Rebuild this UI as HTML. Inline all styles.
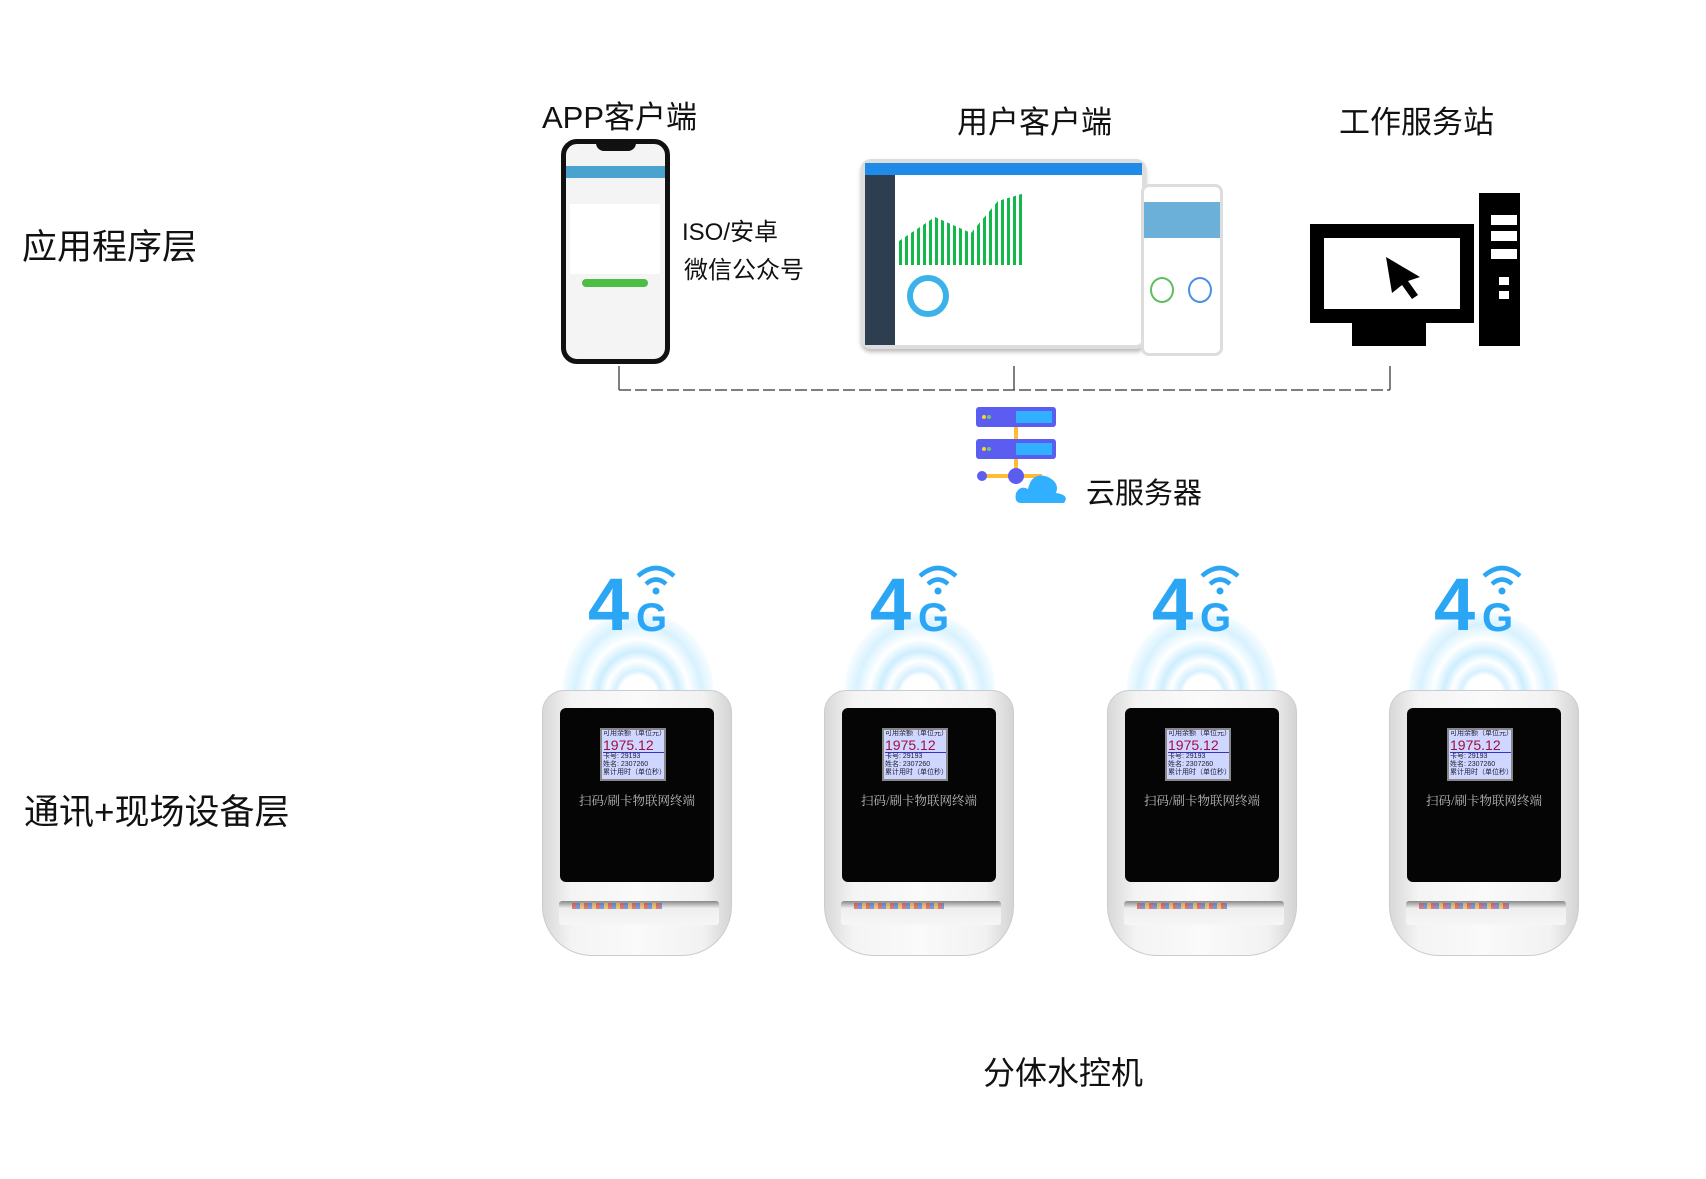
<!DOCTYPE html>
<html><head><meta charset="utf-8"><style>
*{margin:0;padding:0;box-sizing:border-box}
body{width:1706px;height:1179px;background:#fff;position:relative;overflow:hidden;font-family:"Liberation Sans","Noto Sans CJK SC",sans-serif;color:#111}
.a{position:absolute;white-space:nowrap}
.lbl{font-size:35px}
.dev{position:absolute;top:690px;width:190px;height:266px}
.dev .body{position:absolute;left:0;top:0;width:190px;height:266px;border-radius:22px 22px 50px 50px;background:linear-gradient(90deg,#d8d8d8,#f4f4f4 15%,#fafafa 50%,#f2f2f2 85%,#d4d4d4);border:1px solid #ccc}
.dev .scr{position:absolute;left:18px;top:18px;width:154px;height:174px;background:#050505;border-radius:6px}
.dev .lcd{position:absolute;left:40px;top:20px;width:66px;height:53px;background:#cfd6ff;border:2px solid #888;font-size:7px;line-height:8px;color:#223;padding-left:1px;overflow:hidden}
.dev .lcd b{color:#a01040;font-size:14px;line-height:14px;font-weight:normal;display:block;border-bottom:1px solid #33c}
.dev .t{position:absolute;left:0;width:154px;top:83px;text-align:center;color:#bbb;font-size:12.5px;font-family:"Liberation Serif","Noto Serif CJK SC",serif}
.dev .slot{position:absolute;left:17px;top:211px;width:160px;height:24px;background:linear-gradient(#888,#eee 30%,#f6f6f6);border-radius:3px}
.dev .card{position:absolute;left:30px;top:213px;width:90px;height:6px;background:repeating-linear-gradient(90deg,#c33 0 4px,#36c 4px 8px,#ea3 8px 12px);opacity:.6}
.g4{position:absolute;top:572px;width:160px;height:125px}
.g4 .glow{position:absolute;left:5px;top:40px;width:150px;height:85px;border-radius:75px 75px 0 0;background:radial-gradient(ellipse at 50% 100%,#fff 0 18%,#d6f0ff 22%,#fff 30%,#cdeeff 38%,#fff 48%,#d8f2ff 60%,rgba(255,255,255,0) 75%)}
.g4 .four{position:absolute;left:30px;top:0;font-size:74px;font-weight:bold;color:#2aa6f5;line-height:66px}
.g4 .G{position:absolute;left:78px;top:28px;font-size:40px;font-weight:bold;color:#2aa6f5;line-height:36px}
</style></head><body>
<div class="a lbl" style="left:22px;top:219px">应用程序层</div>
<div class="a lbl" style="left:24px;top:784px">通讯+现场设备层</div>
<div class="a" style="left:542px;top:92px;font-size:31px">APP客户端</div>
<div class="a" style="left:957px;top:97px;font-size:31px">用户客户端</div>
<div class="a" style="left:1339px;top:97px;font-size:31px">工作服务站</div>
<div class="a" style="left:682px;top:212px;font-size:24px">ISO/安卓</div>
<div class="a" style="left:684px;top:250px;font-size:24px">微信公众号</div>
<div class="a" style="left:1086px;top:470px;font-size:29px">云服务器</div>
<div class="a" style="left:983px;top:1048px;font-size:32px">分体水控机</div>

<!-- phone -->
<div class="a" style="left:561px;top:139px;width:109px;height:225px;border:5px solid #111;border-radius:16px;background:#f4f4f4">
 <div style="position:absolute;left:30px;top:-2px;width:40px;height:9px;background:#111;border-radius:0 0 8px 8px"></div>
 <div style="position:absolute;left:0;top:22px;width:99px;height:12px;background:#4aa3cf"></div>
 <div style="position:absolute;left:4px;top:60px;width:90px;height:70px;background:#fff"></div>
 <div style="position:absolute;left:16px;top:135px;width:66px;height:8px;background:#4cbd45;border-radius:4px"></div>
</div>
<!-- laptop -->
<div class="a" style="left:861px;top:159px;width:285px;height:190px;border:4px solid #ddd;border-radius:10px;background:#fff;box-shadow:0 3px 4px #bbb">
 <div style="position:absolute;left:0;top:0;width:277px;height:12px;background:#1f8ae8"></div>
 <div style="position:absolute;left:0;top:12px;width:30px;height:170px;background:#2d3e50"></div>
 <div style="position:absolute;left:34px;top:22px;width:180px;height:80px;background:repeating-linear-gradient(90deg,#12b84a 0 3px,#fff 3px 6px);clip-path:polygon(0 70%,20% 40%,40% 60%,55% 20%,70% 10%,70% 100%,0 100%)"></div>
 <div style="position:absolute;left:42px;top:112px;width:42px;height:42px;border:6px solid #3bb3e8;border-radius:50%"></div>
</div>
<div class="a" style="left:1141px;top:184px;width:82px;height:172px;border:3px solid #ddd;border-radius:8px;background:#fff">
 <div style="position:absolute;left:0;top:15px;width:76px;height:36px;background:#6ab0d8"></div>
 <div style="position:absolute;left:6px;top:90px;width:24px;height:26px;border:2px solid #5cbf5c;border-radius:50%"></div>
 <div style="position:absolute;left:44px;top:90px;width:24px;height:26px;border:2px solid #4a8ee8;border-radius:50%"></div>
</div>
<!-- computer -->
<div class="a" style="left:1310px;top:224px;width:164px;height:99px;border:14px solid #000;background:#fff"></div>
<div class="a" style="left:1352px;top:323px;width:74px;height:8px;background:#000"></div>
<div class="a" style="left:1352px;top:331px;width:74px;height:15px;background:#000"></div>
<div class="a" style="left:1479px;top:193px;width:41px;height:153px;background:#000">
 <div style="position:absolute;left:12px;top:22px;width:26px;height:10px;background:#fff"></div>
 <div style="position:absolute;left:12px;top:38px;width:26px;height:10px;background:#fff"></div>
 <div style="position:absolute;left:12px;top:56px;width:26px;height:10px;background:#fff"></div>
 <div style="position:absolute;left:20px;top:84px;width:10px;height:8px;background:#fff"></div>
 <div style="position:absolute;left:20px;top:98px;width:10px;height:8px;background:#fff"></div>
</div>
<svg class="a" style="left:1380px;top:255px" width="50" height="50"><polygon points="6,2 40,22 28,26 38,40 32,44 22,30 12,38" fill="#000"/></svg>
<!-- connectors -->
<svg class="a" style="left:0;top:0" width="1706" height="420">
 <g stroke="#555" stroke-width="1.5" fill="none">
  <path d="M619 366V390M1014 366V390M1390 366V390"/>
  <path d="M619 390H1390" stroke-dasharray="12,4"/>
 </g>
</svg>
<!-- server -->
<svg class="a" style="left:976px;top:407px" width="100" height="100">
 <rect x="0" y="0" width="80" height="20" rx="3" fill="#5a5df0"/>
 <rect x="0" y="32" width="80" height="20" rx="3" fill="#5a5df0"/>
 <g fill="#31b0ff"><rect x="40" y="4" width="36" height="12"/><rect x="40" y="36" width="36" height="12"/></g>
 <circle cx="8" cy="10" r="2" fill="#fc3"/><circle cx="13" cy="10" r="2" fill="#6c6"/>
 <circle cx="8" cy="42" r="2" fill="#fc3"/><circle cx="13" cy="42" r="2" fill="#6c6"/>
 <rect x="38" y="20" width="4" height="12" fill="#fb3"/><rect x="38" y="52" width="4" height="14" fill="#fb3"/>
 <rect x="6" y="67" width="60" height="4" fill="#fb3"/>
 <circle cx="6" cy="69" r="5" fill="#5a5df0"/><circle cx="40" cy="69" r="8" fill="#5a5df0"/>
 <path d="M45 96 Q38 96 40 86 Q44 78 52 82 Q56 64 72 70 Q84 76 80 86 Q94 88 88 96Z" fill="#31b0ff"/>
</svg>

<!-- 4G icons and devices -->
<div class="g4" style="left:558px"><div class="glow"></div><div class="four">4</div><div class="G">G</div><svg style="position:absolute;left:76px;top:-10px" width="44" height="34"><g fill="none" stroke="#2aa6f5" stroke-width="4.5"><path d="M4 14Q22 -2 40 14"/><path d="M12 22Q22 13 32 22"/></g><circle cx="22" cy="29" r="3.5" fill="#2aa6f5"/></svg></div>
<div class="g4" style="left:840px"><div class="glow"></div><div class="four">4</div><div class="G">G</div><svg style="position:absolute;left:76px;top:-10px" width="44" height="34"><g fill="none" stroke="#2aa6f5" stroke-width="4.5"><path d="M4 14Q22 -2 40 14"/><path d="M12 22Q22 13 32 22"/></g><circle cx="22" cy="29" r="3.5" fill="#2aa6f5"/></svg></div>
<div class="g4" style="left:1122px"><div class="glow"></div><div class="four">4</div><div class="G">G</div><svg style="position:absolute;left:76px;top:-10px" width="44" height="34"><g fill="none" stroke="#2aa6f5" stroke-width="4.5"><path d="M4 14Q22 -2 40 14"/><path d="M12 22Q22 13 32 22"/></g><circle cx="22" cy="29" r="3.5" fill="#2aa6f5"/></svg></div>
<div class="g4" style="left:1404px"><div class="glow"></div><div class="four">4</div><div class="G">G</div><svg style="position:absolute;left:76px;top:-10px" width="44" height="34"><g fill="none" stroke="#2aa6f5" stroke-width="4.5"><path d="M4 14Q22 -2 40 14"/><path d="M12 22Q22 13 32 22"/></g><circle cx="22" cy="29" r="3.5" fill="#2aa6f5"/></svg></div>

<div class="dev" style="left:542px"><div class="body"></div><div class="scr"><div class="lcd">可用余额（单位元）<b>1975.12</b>卡号: 29193<br>姓名: 2307260<br>累计用时（单位秒）</div><div class="t">扫码/刷卡物联网终端</div></div><div class="slot"></div><div class="card"></div></div>
<div class="dev" style="left:824px"><div class="body"></div><div class="scr"><div class="lcd">可用余额（单位元）<b>1975.12</b>卡号: 29193<br>姓名: 2307260<br>累计用时（单位秒）</div><div class="t">扫码/刷卡物联网终端</div></div><div class="slot"></div><div class="card"></div></div>
<div class="dev" style="left:1107px"><div class="body"></div><div class="scr"><div class="lcd">可用余额（单位元）<b>1975.12</b>卡号: 29193<br>姓名: 2307260<br>累计用时（单位秒）</div><div class="t">扫码/刷卡物联网终端</div></div><div class="slot"></div><div class="card"></div></div>
<div class="dev" style="left:1389px"><div class="body"></div><div class="scr"><div class="lcd">可用余额（单位元）<b>1975.12</b>卡号: 29193<br>姓名: 2307260<br>累计用时（单位秒）</div><div class="t">扫码/刷卡物联网终端</div></div><div class="slot"></div><div class="card"></div></div>
</body></html>
